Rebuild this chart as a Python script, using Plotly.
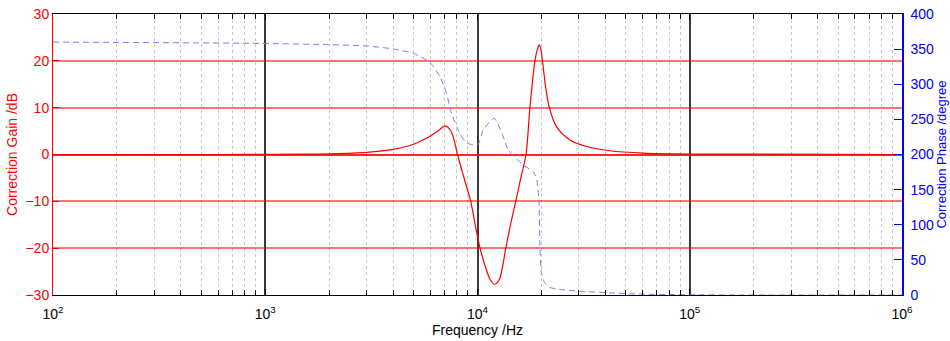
import plotly.graph_objects as go

# Correction filter response: frequency (Hz) vs gain (dB)
gain_freq = [100, 500, 847, 1500, 2018, 3006, 4010, 4988, 5975, 6500, 7030, 7400, 7693,
             8050, 8600, 9290, 9800, 10280, 10900, 11500, 12080, 12700, 13590, 14300,
             15140, 16000, 16930, 17660, 18650, 19200, 19550, 19900, 20290, 21000,
             21790, 23600, 27290, 32690, 42060, 60400, 100000, 1000000]
gain_db = [0, 0, 0.02, 0.08, 0.15, 0.45, 1.1, 2.2, 3.9, 5.0, 6.1, 5.4, 3.7,
           0, -4.7, -10, -15.5, -20, -24, -26.8, -27.7, -26.6, -20, -15,
           -10, -5, 0, 10, 20, 22.6, 23.4, 22.4, 19.5, 14.0,
           10, 5.9, 3.1, 1.7, 0.8, 0.3, 0.1, 0]

# Correction filter response: frequency (Hz) vs phase (degree)
phase_freq = [100, 847, 2018, 3006, 4010, 4988, 5975, 6650, 7160, 7420, 7980, 8730,
              9550, 10090, 10650, 12000, 13230, 13970, 16440, 18330, 19020, 19270,
              19500, 19690, 20050, 20700, 21800, 24300, 30000, 42000, 60000, 100000,
              180000, 1000000]
phase_deg = [360, 358.3, 356.3, 354.4, 350.2, 344, 331, 310.8, 287, 265.7, 239.6, 218.3,
             213.5, 215, 235, 251.5, 225, 206, 185, 175.5, 163.7, 150,
             130, 70, 30, 18, 11, 8, 5.5, 3, 1.2, 0.3,
             0, 0]

major_vals = [100, 1000, 10000, 100000, 1000000]
major_text = ["10<sup>2</sup>", "10<sup>3</sup>", "10<sup>4</sup>",
              "10<sup>5</sup>", "10<sup>6</sup>"]
minor_vals = [m * d for d in (100, 1000, 10000, 100000) for m in range(2, 10)]

FONT = "Liberation Sans, Arial, sans-serif"
FS = 14

fig = go.Figure()
fig.add_trace(go.Scatter(
    x=phase_freq, y=phase_deg, yaxis="y2", mode="lines",
    line=dict(color="#7878ff", width=1, dash="6px,4px", shape="spline", smoothing=0.6),
    showlegend=False, hoverinfo="skip"))
fig.add_trace(go.Scatter(
    x=gain_freq, y=gain_db, mode="lines",
    line=dict(color="#ff0000", width=1.2, shape="spline", smoothing=0.8),
    showlegend=False, hoverinfo="skip"))

fig.update_layout(
    width=950, height=341,
    margin=dict(l=53, r=48, t=14, b=46),
    paper_bgcolor="white", plot_bgcolor="white",
    font=dict(family=FONT, size=FS, color="black"),
    xaxis=dict(
        type="log", range=[2, 6], automargin=False,
        tickmode="array", tickvals=major_vals, ticktext=major_text,
        ticks="inside", ticklen=6, tickcolor="black",
        showline=True, linecolor="black", linewidth=1, mirror="ticks",
        showgrid=True, gridcolor="#3a3a3a", gridwidth=1.5,
        minor=dict(tickmode="array", tickvals=minor_vals, ticks="inside",
                   ticklen=5, tickcolor="black", showgrid=True,
                   gridcolor="#c8c8c8", griddash="dot", gridwidth=1),
        ticklabelstandoff=6,
        title=dict(text="Frequency /Hz", font=dict(size=FS), standoff=2),
        tickfont=dict(size=FS),
    ),
    yaxis=dict(
        range=[-30, 30], dtick=10, tick0=0, automargin=False,
        ticks="inside", ticklen=6, tickcolor="red",
        showline=True, linecolor="red", linewidth=1,
        showgrid=True, gridcolor="rgba(255,0,0,0.55)", gridwidth=2,
        zeroline=True, zerolinecolor="rgba(255,0,0,0.85)", zerolinewidth=2,
        tickfont=dict(color="red", size=FS),
        title=dict(text="Correction Gain /dB", font=dict(color="red", size=FS),
                   standoff=4),
    ),
    yaxis2=dict(
        overlaying="y", side="right", range=[0, 400], dtick=50, tick0=0,
        automargin=False,
        ticks="inside", ticklen=8, tickcolor="blue",
        showline=True, linecolor="blue", linewidth=1.5,
        showgrid=False, zeroline=False,
        ticklabelstandoff=4,
        tickfont=dict(color="blue", size=FS),
        title=dict(text="Correction Phase /degree", font=dict(color="blue", size=13),
                   standoff=0),
    ),
)

fig.write_html("out.html")
